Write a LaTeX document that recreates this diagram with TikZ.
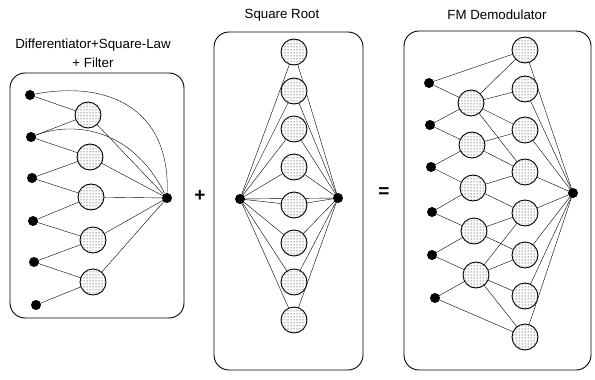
\documentclass[tikz,border=0pt]{standalone}
\usepackage{fontspec}
\setmainfont{Liberation Sans}
\usetikzlibrary{patterns,backgrounds}
\begin{document}
\begin{tikzpicture}[x=1pt,y=-1pt,line width=0.8pt,
  dotnode/.style={circle,fill=black,inner sep=0pt,minimum width=10pt,minimum height=9pt},
  neuron/.style={circle,draw,line width=0.9pt,inner sep=0pt,minimum size=26pt,
     preaction={fill=white},pattern=dots,pattern color=black},
  panel/.style={draw,line width=0.9pt,rounded corners=15pt},
  ttl/.style={font=\fontsize{13.3}{15}\selectfont,inner sep=0pt},
  opsym/.style={font=\fontsize{19}{20}\selectfont\bfseries,inner sep=0pt}]
\useasboundingbox (0,0) rectangle (595,380);
% ---------- left panel ----------
\node[ttl] (t1a) at (93,45) {Differentiator+Square-Law};
\node[ttl] (t1b) at (93,63) {+ Filter};
\foreach \i/\x/\y in {1/30/95,2/31/137,3/32/178,4/33/221,5/34/262,6/36/305}
  \node[dotnode] (L\i) at (\x,\y) {};
\node[dotnode] (LO) at (167,198) {};
\foreach \j/\x/\y in {1/88/115,2/90/157,3/91/197,4/93/240,5/93/282}
  \node[neuron] (LH\j) at (\x,\y) {};
\node[opsym] (plus) at (200,196) {+};
% ---------- middle panel ----------
\node[ttl] (t2) at (282,15) {Square Root};
\node[dotnode] (MI) at (240,199) {};
\node[dotnode] (MO) at (338,198) {};
\foreach \k/\y in {1/52,2/91,3/129,4/167,5/205,6/243,7/282,8/320}
  \node[neuron] (MH\k) at (294,\y) {};
\node[opsym] (eq) at (384,193) {=};
% ---------- right panel ----------
\node[ttl] (t3) at (497,15) {FM Demodulator};
\foreach \i/\x/\y in {1/429/83,2/430/125,3/431/167,4/432/212,5/432/255,6/435/298}
  \node[dotnode] (RI\i) at (\x,\y) {};
\node[dotnode] (RO) at (573,193) {};
\foreach \j/\x/\y in {1/471/103,2/472/145,3/473/188,4/474/231,5/476/275}
  \node[neuron] (RH\j) at (\x,\y) {};
\foreach \k/\y in {1/50,2/89,3/130,4/172,5/213,6/255,7/296,8/337}
  \node[neuron] (RQ\k) at (525,\y) {};
% ---------- boxes and connectors behind the nodes ----------
\begin{scope}[on background layer]
\draw[panel] (10,73) rectangle (184,318);
\draw[panel] (214,32) rectangle (363,370);
\draw[panel] (404,31) rectangle (591,370);
\foreach \a/\b in {1/1,2/1,2/2,3/2,3/3,4/3,4/4,5/4,5/5,6/5}
  \draw (L\a.center) -- (LH\b.center);
\foreach \j in {1,...,5} \draw (LH\j.center) -- (LO.center);
\draw (L1) .. controls (110,80) and (170,110) .. (LO);
\draw (L2) .. controls (70,122) and (130,125) .. (LO);
\foreach \k in {1,...,8} \draw (MI.center) -- (MH\k.center) -- (MO.center);
\draw (MI) -- (MO);
\foreach \a/\b in {1/1,2/1,2/2,3/2,3/3,4/3,4/4,5/4,5/5,6/5}
  \draw (RI\a.center) -- (RH\b.center);
\draw (RI1.center) -- (RQ1.center);
\draw (RI6.center) -- (RQ8.center);
\foreach \a/\b in {1/1,1/2,1/3,1/4,2/3,2/4,3/4,3/5,4/5,4/6,5/5,5/6,5/7,5/8}
  \draw (RH\a.center) -- (RQ\b.center);
\foreach \k in {1,...,8} \draw (RQ\k.center) -- (RO.center);
\end{scope}
\end{tikzpicture}
\end{document}
